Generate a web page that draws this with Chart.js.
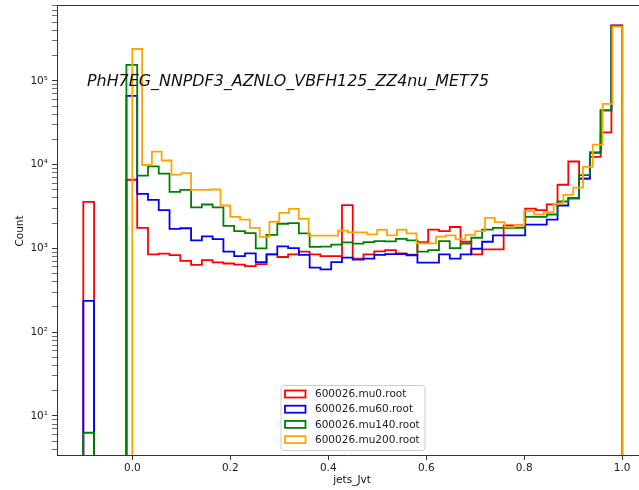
<!DOCTYPE html>
<html>
<head>
<meta charset="utf-8">
<title>jets_Jvt</title>
<script src="https://cdn.jsdelivr.net/npm/chart.js@4.4.1/dist/chart.umd.min.js"></script>
<style>
  html, body { margin: 0; padding: 0; background: #fff; }
  canvas { display: block; }
</style>
</head>
<body>
<canvas id="jvtChart" width="639" height="490"></canvas>
<script>
// binning of the histograms (mu0/mu60/mu140 share one, mu200 has its own)
const muBinStart = -0.1;
const muBinWidth = 0.022;
const mu200BinStart = 0.0;
const mu200BinWidth = 0.02;

const sampleNames = ['600026.mu0.root', '600026.mu60.root', '600026.mu140.root', '600026.mu200.root'];
const sampleColors = ['#ff0000', '#0000ff', '#008000', '#ffa500'];

// counts per bin, 50 bins each
const countsMu0 = [3600, 0, 0, 0, 6600, 1760, 850, 865, 830, 710,
    635, 725, 680, 660, 640, 615, 650, 850, 790, 850,
    915, 850, 810, 810, 3280, 755, 850, 920, 955, 870,
    840, 1190, 1680, 1610, 1800, 1200, 850, 975, 975, 1880,
    1880, 2990, 2860, 3350, 5750, 10900, 6800, 12400, 24300, 460000];
const countsMu60 = [236, 0, 0, 0, 66000, 4480, 3800, 2860, 1710, 1740,
    1250, 1390, 1290, 914, 809, 871, 687, 849, 1060, 1010,
    837, 589, 562, 687, 774, 733, 754, 837, 855, 855,
    828, 675, 675, 849, 754, 849, 990, 1200, 1430, 1430,
    1430, 1920, 1920, 2200, 3250, 3970, 6800, 14000, 44300, 455000];
const countsMu140 = [6.3, 0, 0, 0, 155000, 7400, 9550, 7800, 4730, 5000,
    3080, 3340, 3080, 1860, 1610, 1520, 1000, 1450, 1970, 2000,
    1510, 1040, 1050, 1110, 1180, 1140, 1190, 1220, 1210, 1300,
    1250, 914, 955, 1220, 1010, 1140, 1340, 1680, 1760, 1760,
    1760, 2380, 2380, 2540, 3630, 3970, 7500, 13800, 44300, 450000];
const countsMu200 = [240000, 9900, 14300, 11200, 7600, 7900, 5000, 5000, 5050, 3250,
    2380, 2210, 1760, 1370, 2080, 2660, 2970, 2260, 1420, 1420,
    1420, 1630, 1550, 1550, 1470, 1670, 1430, 1670, 1510, 1150,
    1150, 1380, 1430, 1280, 1450, 1610, 2320, 2060, 1810, 1880,
    2780, 2540, 2710, 3400, 4360, 5300, 9400, 17300, 53000, 443000];

const yTickPowers = [1, 2, 3, 4, 5];
const xTickLabels = ['0.0', '0.2', '0.4', '0.6', '0.8', '1.0'];

const titleText = 'PhH7EG_NNPDF3_AZNLO_VBFH125_ZZ4nu_MET75';
const xTitle = 'jets_Jvt';
const yTitle = 'Count';

// empty bins sit below the log axis and get clipped away
const EMPTY = 1e-3;

function stepPoints(counts, start, width) {
  const pts = [{x: start, y: EMPTY}];
  counts.forEach((c, i) => {
    pts.push({x: start + i * width, y: c > 0 ? c : EMPTY});
  });
  pts.push({x: start + counts.length * width, y: EMPTY});
  return pts;
}

const allCounts = [countsMu0, countsMu60, countsMu140, countsMu200];
const datasets = allCounts.map((counts, i) => {
  const last = i === 3;
  return {
    label: sampleNames[i],
    data: stepPoints(counts, last ? mu200BinStart : muBinStart, last ? mu200BinWidth : muBinWidth),
    borderColor: sampleColors[i],
    backgroundColor: sampleColors[i],
    borderWidth: 1.8,
    stepped: 'before',   // horizontal to the next edge, then vertical
    pointRadius: 0,
    fill: false,
    borderJoinStyle: 'miter',
    order: 4 - i
  };
});

const SUP = '⁰¹²³⁴⁵⁶⁷⁸⁹';
const FONT = '"DejaVu Sans", sans-serif';

// title text, axis titles, top spine and the legend box
const decorations = {
  id: 'decorations',
  afterDraw(chart) {
    const ctx = chart.ctx;
    const area = chart.chartArea;
    ctx.save();

    ctx.strokeStyle = '#333';
    ctx.lineWidth = 1;
    ctx.beginPath();
    ctx.moveTo(area.left, area.top + 0.5);
    ctx.lineTo(area.right, area.top + 0.5);
    ctx.stroke();

    ctx.fillStyle = '#111';
    ctx.font = 'italic 15.9px ' + FONT;
    ctx.textBaseline = 'alphabetic';
    ctx.textAlign = 'left';
    ctx.fillText(titleText, 87, 86);

    ctx.font = '10.5px ' + FONT;
    ctx.textAlign = 'center';
    ctx.textBaseline = 'middle';
    ctx.fillText(xTitle, 352, 480);
    ctx.save();
    ctx.translate(20, 231);
    ctx.rotate(-Math.PI / 2);
    ctx.fillText(yTitle, 0, 0);
    ctx.restore();

    // legend
    const bx = 281, by = 385.5, bw = 144, bh = 65, r = 3;
    ctx.beginPath();
    ctx.moveTo(bx + r, by);
    ctx.arcTo(bx + bw, by, bx + bw, by + bh, r);
    ctx.arcTo(bx + bw, by + bh, bx, by + bh, r);
    ctx.arcTo(bx, by + bh, bx, by, r);
    ctx.arcTo(bx, by, bx + bw, by, r);
    ctx.closePath();
    ctx.fillStyle = 'rgba(255,255,255,0.8)';
    ctx.fill();
    ctx.strokeStyle = '#cccccc';
    ctx.lineWidth = 1;
    ctx.stroke();

    ctx.textAlign = 'left';
    chart.data.datasets.forEach((ds, i) => {
      const cy = 394 + i * 15.2;
      ctx.strokeStyle = ds.borderColor;
      ctx.lineWidth = 1.8;
      ctx.strokeRect(285, cy - 3.5, 20.5, 7);
      ctx.fillStyle = '#222';
      ctx.fillText(ds.label, 315, cy + 0.5);
    });
    ctx.restore();
  }
};

const ctx = document.getElementById('jvtChart').getContext('2d');
const jvtChart = new Chart(ctx, {
  type: 'line',
  data: { datasets: datasets },
  options: {
    responsive: false,
    animation: false,
    layout: { padding: { top: 5, right: 0, left: 0, bottom: 0 } },
    scales: {
      x: {
        type: 'linear',
        min: -0.1537,
        max: 1.0343,
        afterFit: function(scale) {
          scale.height = 35;
          scale.paddingLeft = 0;
          scale.paddingRight = 0;
        },
        border: { display: true, color: '#333', width: 1 },
        grid: { display: true, drawOnChartArea: false, drawTicks: true, tickLength: 5, color: '#333' },
        ticks: {
          stepSize: 0.2,
          includeBounds: false,
          autoSkip: false,
          maxRotation: 0,
          padding: 2,
          color: '#222',
          font: { family: FONT, size: 10.5 },
          callback: function(value) {
            const label = Math.abs(value) < 1e-9 ? '0.0' : value.toFixed(1);
            return xTickLabels.includes(label) ? label : '';
          }
        }
      },
      y: {
        type: 'logarithmic',
        min: 3.42,
        max: 8.04e5,
        afterFit: function(scale) {
          scale.width = 57;
          scale.paddingTop = 0;
          scale.paddingBottom = 0;
        },
        afterBuildTicks: function(scale) {
          scale.ticks = scale.ticks.filter(t => {
            const e = Math.floor(Math.log10(t.value) + 1e-9);
            const d = t.value / Math.pow(10, e);
            return Math.abs(d - Math.round(d)) < 1e-6 && t.value > 3.42 && t.value < 8.04e5;
          });
        },
        border: { display: true, color: '#333', width: 1 },
        grid: {
          display: true,
          drawOnChartArea: false,
          drawTicks: true,
          tickLength: 5,
          color: '#333',
          tickWidth: function(c) {
            const v = c.tick ? c.tick.value : 1;
            const e = Math.log10(v);
            return Math.abs(e - Math.round(e)) < 1e-9 ? 1 : 0.7;
          }
        },
        ticks: {
          autoSkip: false,
          padding: 4,
          color: '#222',
          font: { family: FONT, size: 10.5 },
          callback: function(value) {
            const e = Math.log10(value);
            const n = Math.round(e);
            if (Math.abs(e - n) > 1e-9 || !yTickPowers.includes(n)) return '';
            return '10' + String(n).split('').map(ch => SUP[+ch]).join('');
          }
        }
      }
    },
    plugins: {
      legend: { display: false },
      tooltip: { enabled: false }
    }
  },
  plugins: [decorations]
});
</script>
</body>
</html>
